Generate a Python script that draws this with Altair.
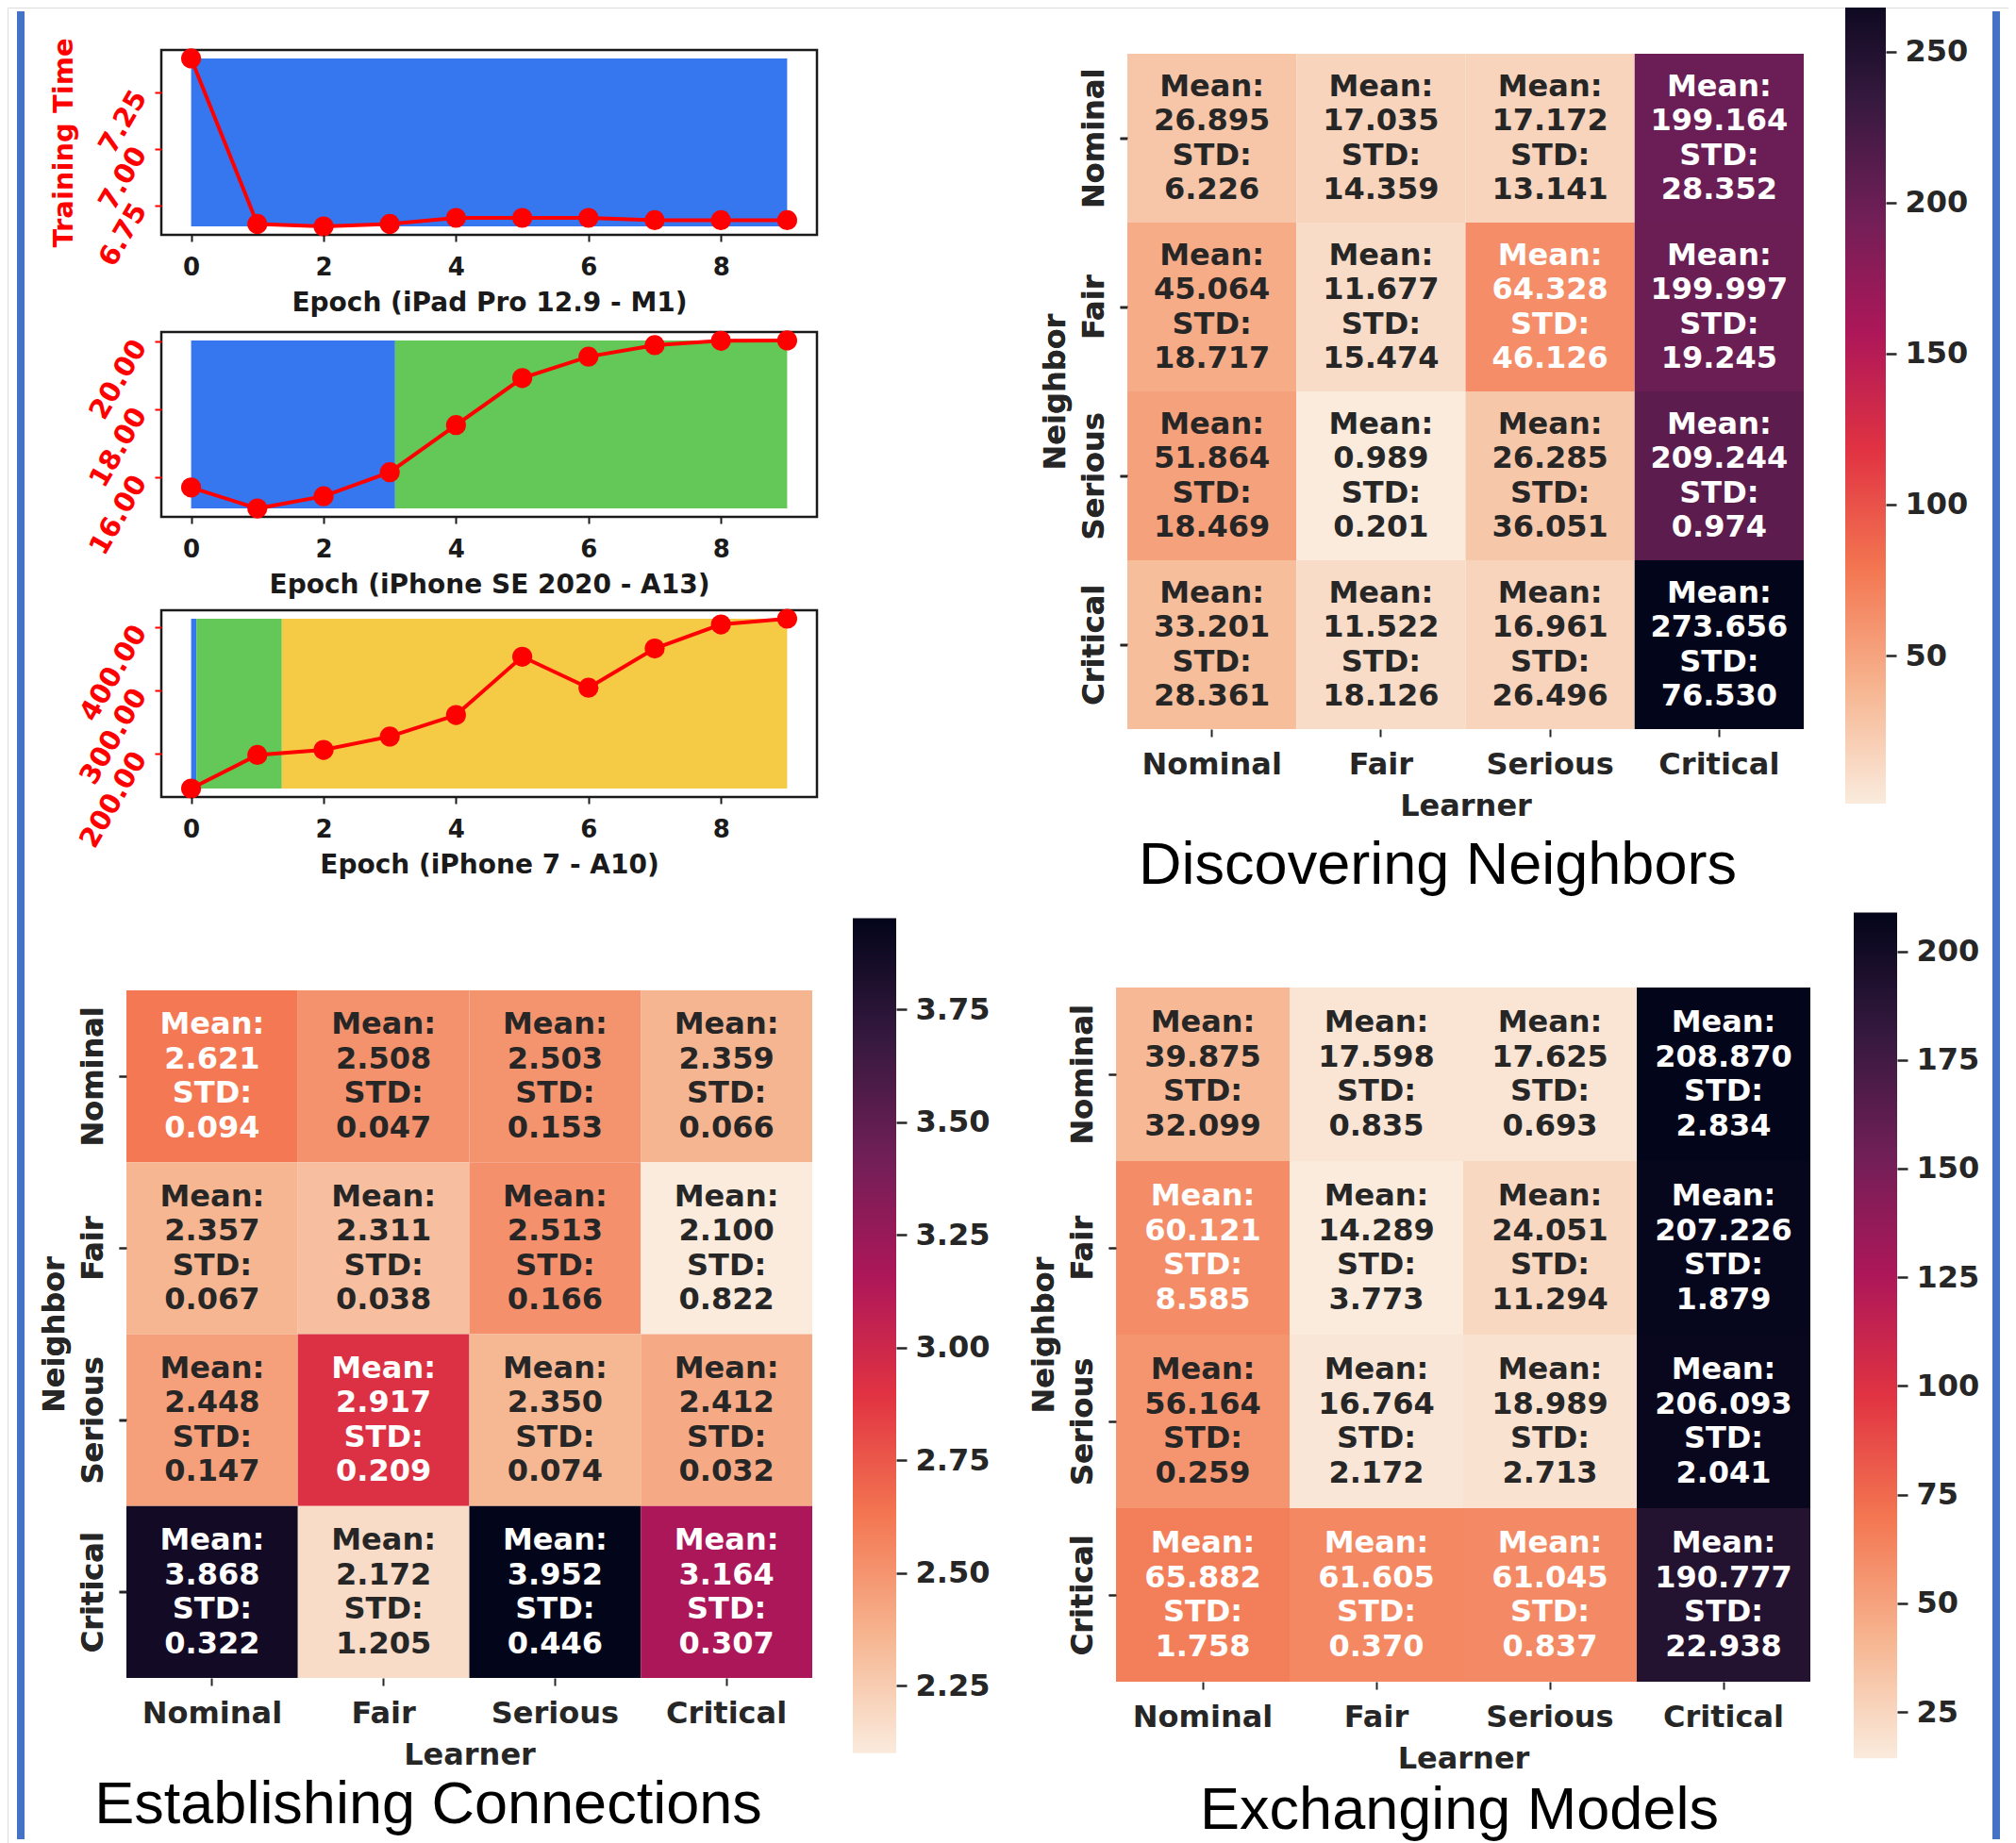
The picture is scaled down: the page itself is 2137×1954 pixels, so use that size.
import altair as alt
import pandas as pd

# ---------------- data ----------------
EPOCHS = list(range(10))
IPAD_TIME = [7.40, 6.667, 6.656, 6.667, 6.694, 6.694, 6.694, 6.684, 6.684, 6.684]
SE_TIME = [15.70, 15.08, 15.44, 16.15, 17.54, 18.93, 19.56, 19.90, 20.03, 20.04]
IP7_TIME = [145, 198, 206, 227, 261, 353, 304, 366, 404, 413]

THERMAL_STATES = ["Nominal", "Fair", "Serious", "Critical"]
IPAD_STATE_EPOCHS = [0, 9]
IPAD_STATES = ["Nominal"]
SE_STATE_EPOCHS = [0, 3.08, 9]
SE_STATES = ["Nominal", "Fair"]
IP7_STATE_EPOCHS = [0, 0.08, 1.37, 9]
IP7_STATES = ["Nominal", "Fair", "Serious"]

LEARNERS = ["Nominal", "Fair", "Serious", "Critical"]
NEIGHBORS = ["Nominal", "Fair", "Serious", "Critical"]

DISC_MEAN = [[26.895, 17.035, 17.172, 199.164],
             [45.064, 11.677, 64.328, 199.997],
             [51.864, 0.989, 26.285, 209.244],
             [33.201, 11.522, 16.961, 273.656]]
DISC_STD = [[6.226, 14.359, 13.141, 28.352],
            [18.717, 15.474, 46.126, 19.245],
            [18.469, 0.201, 36.051, 0.974],
            [28.361, 18.126, 26.496, 76.530]]

EST_MEAN = [[2.621, 2.508, 2.503, 2.359],
            [2.357, 2.311, 2.513, 2.100],
            [2.448, 2.917, 2.350, 2.412],
            [3.868, 2.172, 3.952, 3.164]]
EST_STD = [[0.094, 0.047, 0.153, 0.066],
           [0.067, 0.038, 0.166, 0.822],
           [0.147, 0.209, 0.074, 0.032],
           [0.322, 1.205, 0.446, 0.307]]

EXCH_MEAN = [[39.875, 17.598, 17.625, 208.870],
             [60.121, 14.289, 24.051, 207.226],
             [56.164, 16.764, 18.989, 206.093],
             [65.882, 61.605, 61.045, 190.777]]
EXCH_STD = [[32.099, 0.835, 0.693, 2.834],
            [8.585, 3.773, 11.294, 1.879],
            [0.259, 2.172, 2.713, 2.041],
            [1.758, 0.370, 0.837, 22.938]]

DISC_TICKS = [50, 100, 150, 200, 250]
EST_TICKS = [2.25, 2.50, 2.75, 3.00, 3.25, 3.50, 3.75]
EXCH_TICKS = [25, 50, 75, 100, 125, 150, 175, 200]

# ---------------- style ----------------
FONT = "DejaVu Sans"
TITLE_FONT = "Liberation Sans"
INK = "#1a1a1a"
TXT_DARK = "#262626"
RED = "#ff0000"
BORDER = "#4472c4"
STATE_COLORS = ["#3677f0", "#63c857", "#f5cb46", "#e8453c"]
ROCKET_R = ["#faebdd", "#f6b48f", "#f37651", "#e13342",
            "#ad1759", "#701f57", "#35193e", "#03051a"]
CELL_FS = 32
CELL_LH = 36.5
AX_FS = 32

# ---------------- layout (pixels, chart coordinates) ----------------
W, H = 2121, 1946
LINE_X0, LINE_X1 = 163, 858
LINE_Y = [(45, 241), (344, 540), (639, 837)]


def line_panel(times, state_epochs, states, yticks, top, bottom, xtitle, ytitle=None):
    lo, hi = min(times), max(times)
    m = 0.05 * (hi - lo)
    ydom = [lo - m, hi + m]
    span = EPOCHS[-1] - EPOCHS[0]
    xdom = [EPOCHS[0] - 0.05 * span, EPOCHS[-1] + 0.05 * span]
    xs = alt.Scale(domain=xdom, range=[LINE_X0, LINE_X1], nice=False, zero=False)
    ys = alt.Scale(domain=ydom, range=[bottom, top], nice=False, zero=False)

    pts_df = pd.DataFrame({"epoch": EPOCHS, "time": times})
    seg_df = pd.DataFrame({"start": state_epochs[:-1], "end": state_epochs[1:],
                           "state": states, "lo": lo, "hi": hi})
    frame_df = pd.DataFrame({"x0": [xdom[0]], "x1": [xdom[1]],
                             "y0": [ydom[0]], "y1": [ydom[1]]})

    xaxis = alt.Axis(orient="bottom", offset=bottom - H, values=[0, 2, 4, 6, 8], format="d",
                     domain=False, grid=False, tickSize=7, tickWidth=2, tickColor=INK,
                     labelFont=FONT, labelFontSize=26, labelFontWeight="bold", labelColor=INK,
                     labelPadding=14, labelFlush=False, labelOverlap=False,
                     titleFont=FONT, titleFontSize=28, titleFontWeight="bold", titleColor=INK,
                     titlePadding=11, zindex=2)
    ykw = dict(orient="left", offset=-LINE_X0, values=yticks, format=".2f",
               domain=False, grid=False, tickSize=7, tickWidth=2, tickColor=RED,
               labelFont=FONT, labelFontSize=29, labelFontWeight="bold", labelColor=RED,
               labelAngle=300, labelAlign="right", labelBaseline="middle",
               labelPadding=16, labelOverlap=False, labelFlush=False, zindex=2)
    if ytitle:
        ykw.update(titleFont=FONT, titleFontSize=29, titleFontWeight="bold",
                   titleColor=RED, titlePadding=18)
    yaxis = alt.Axis(**ykw)
    ttl_y = ytitle if ytitle else None

    bg = alt.Chart(seg_df).mark_rect().encode(
        x=alt.X("start:Q", scale=xs, axis=xaxis, title=xtitle), x2="end:Q",
        y=alt.Y("lo:Q", scale=ys, axis=yaxis, title=ttl_y), y2="hi:Q",
        color=alt.Color("state:N", scale=alt.Scale(domain=THERMAL_STATES, range=STATE_COLORS),
                        legend=None),
    )
    frame = alt.Chart(frame_df).mark_rect(filled=False, stroke=INK, strokeWidth=2.5).encode(
        x=alt.X("x0:Q", scale=xs, axis=xaxis, title=xtitle), x2="x1:Q",
        y=alt.Y("y0:Q", scale=ys, axis=yaxis, title=ttl_y), y2="y1:Q",
    )
    line = alt.Chart(pts_df).mark_line(color=RED, strokeWidth=4).encode(
        x=alt.X("epoch:Q", scale=xs, axis=xaxis, title=xtitle),
        y=alt.Y("time:Q", scale=ys, axis=yaxis, title=ttl_y),
    )
    dots = alt.Chart(pts_df).mark_circle(size=450, color=RED, opacity=1).encode(
        x=alt.X("epoch:Q", scale=xs, axis=xaxis, title=xtitle),
        y=alt.Y("time:Q", scale=ys, axis=yaxis, title=ttl_y),
    )
    return alt.layer(bg, frame, line, dots)


def heat_panel(mean, std, cells_x, cells_y, cbar_x, anchors, ticks, tick_fmt, title, title_xy):
    rows = []
    for i, nb in enumerate(NEIGHBORS):
        for j, ln in enumerate(LEARNERS):
            rows.append({"learner": ln, "neighbor": nb, "mean": mean[i][j], "std": std[i][j],
                         "label": f"Mean:\n{mean[i][j]:.3f}\nSTD:\n{std[i][j]:.3f}"})
    df = pd.DataFrame(rows)
    vmin, vmax = float(df["mean"].min()), float(df["mean"].max())

    xs = alt.Scale(domain=LEARNERS, range=list(cells_x), paddingInner=0, paddingOuter=0)
    ys = alt.Scale(domain=NEIGHBORS, range=list(cells_y), paddingInner=0, paddingOuter=0)
    cs = alt.Scale(domain=[vmin, vmax], range=ROCKET_R, interpolate="rgb")

    xaxis = alt.Axis(orient="bottom", offset=cells_y[1] - H, domain=False, grid=False,
                     tickSize=8, tickWidth=2, tickColor=TXT_DARK, labelAngle=0,
                     labelFont=FONT, labelFontSize=AX_FS, labelFontWeight="bold",
                     labelColor=TXT_DARK, labelPadding=14, labelOverlap=False,
                     titleFont=FONT, titleFontSize=AX_FS, titleFontWeight="bold",
                     titleColor=TXT_DARK, titlePadding=13)
    yaxis = alt.Axis(orient="left", offset=-cells_x[0], domain=False, grid=False,
                     tickSize=8, tickWidth=2, tickColor=TXT_DARK, labelAngle=270,
                     labelAlign="center", labelBaseline="bottom",
                     labelFont=FONT, labelFontSize=AX_FS, labelFontWeight="bold",
                     labelColor=TXT_DARK, labelPadding=11, labelOverlap=False,
                     titleFont=FONT, titleFontSize=AX_FS, titleFontWeight="bold",
                     titleColor=TXT_DARK, titlePadding=8)

    cells = alt.Chart(df).mark_rect().encode(
        x=alt.X("learner:N", scale=xs, sort=LEARNERS, axis=xaxis, title="Learner"),
        y=alt.Y("neighbor:N", scale=ys, sort=NEIGHBORS, axis=yaxis, title="Neighbor"),
        color=alt.Color("mean:Q", scale=cs, legend=None),
    )
    thr = vmin + 0.225 * (vmax - vmin)
    text = alt.Chart(df).mark_text(font=FONT, fontSize=CELL_FS, fontWeight="bold", lineBreak="\n",
                                   lineHeight=CELL_LH, align="center", baseline="middle",
                                   dy=-1.5 * CELL_LH).encode(
        x=alt.X("learner:N", scale=xs, sort=LEARNERS, axis=xaxis, title="Learner"),
        y=alt.Y("neighbor:N", scale=ys, sort=NEIGHBORS, axis=yaxis, title="Neighbor"),
        text="label:N",
        color=alt.condition(f"datum.mean > {thr}", alt.value("white"), alt.value(TXT_DARK)),
    )

    (a_val, a_px), (b_val, b_px) = anchors

    def px(v):
        return a_px + (v - a_val) * (b_px - a_px) / (b_val - a_val)

    cys = alt.Scale(domain=[vmin, vmax], range=[px(vmin), px(vmax)], nice=False, zero=False)
    grad = {"gradient": "linear", "x1": 0, "x2": 0, "y1": 1, "y2": 0,
            "stops": [{"offset": k / (len(ROCKET_R) - 1), "color": c} for k, c in enumerate(ROCKET_R)]}
    caxis = alt.Axis(orient="right", offset=cbar_x[1] - W, values=ticks, format=tick_fmt,
                     domain=False, grid=False, tickSize=11, tickWidth=2.5, tickColor=TXT_DARK,
                     labelFont=FONT, labelFontSize=AX_FS, labelFontWeight="bold", labelColor=TXT_DARK,
                     labelPadding=9, labelOverlap=False, labelFlush=False)
    cbar = alt.Chart(pd.DataFrame({"lo": [vmin], "hi": [vmax]})).mark_rect(
        fill=grad, clip=True).encode(
        x=alt.value(cbar_x[0]), x2=alt.value(cbar_x[1]),
        y=alt.Y("lo:Q", scale=cys, axis=caxis, title=None), y2="hi:Q",
    )
    ttl = alt.Chart(pd.DataFrame({"t": [title]})).mark_text(
        font=TITLE_FONT, fontSize=63, align="center", baseline="alphabetic", color="black").encode(
        x=alt.value(title_xy[0]), y=alt.value(title_xy[1]), text="t:N")
    return alt.layer(cells, text, cbar, ttl).resolve_scale(y="independent")


l1 = line_panel(IPAD_TIME, IPAD_STATE_EPOCHS, IPAD_STATES, [6.75, 7.00, 7.25],
                LINE_Y[0][0], LINE_Y[0][1], "Epoch (iPad Pro 12.9 - M1)", "Training Time")
l2 = line_panel(SE_TIME, SE_STATE_EPOCHS, SE_STATES, [16, 18, 20],
                LINE_Y[1][0], LINE_Y[1][1], "Epoch (iPhone SE 2020 - A13)")
l3 = line_panel(IP7_TIME, IP7_STATE_EPOCHS, IP7_STATES, [200, 300, 400],
                LINE_Y[2][0], LINE_Y[2][1], "Epoch (iPhone 7 - A10)")

disc = heat_panel(DISC_MEAN, DISC_STD, (1187, 1904), (49, 765), (1948, 1991),
                  ((50, 687), (250, 46.5)), DISC_TICKS, "d", "Discovering Neighbors", (1516, 929))
est = heat_panel(EST_MEAN, EST_STD, (126, 853), (1042, 1771), (896, 942),
                 ((2.25, 1779), (3.75, 1062)), EST_TICKS, ".2f", "Establishing Connections", (446, 1925))
exch = heat_panel(EXCH_MEAN, EXCH_STD, (1175, 1911), (1039, 1775), (1957, 2003),
                  ((25, 1807), (200, 1000.5)), EXCH_TICKS, "d", "Exchanging Models", (1539, 1931))

anchor_df = pd.DataFrame({"k": [0]})
border_l = alt.Chart(anchor_df).mark_rule(color=BORDER, strokeWidth=8).encode(
    x=alt.value(14), y=alt.value(4), y2=alt.value(H - 4))
border_r = alt.Chart(anchor_df).mark_rule(color=BORDER, strokeWidth=8).encode(
    x=alt.value(2108), y=alt.value(4), y2=alt.value(H - 4))

chart = alt.layer(l1, l2, l3, disc, est, exch, border_l, border_r).resolve_scale(
    x="independent", y="independent", color="independent"
).properties(width=W, height=H, padding=0).configure_view(stroke="transparent").configure(font=FONT)

chart.save("out.html", embed_options={"renderer": "svg", "actions": False})
